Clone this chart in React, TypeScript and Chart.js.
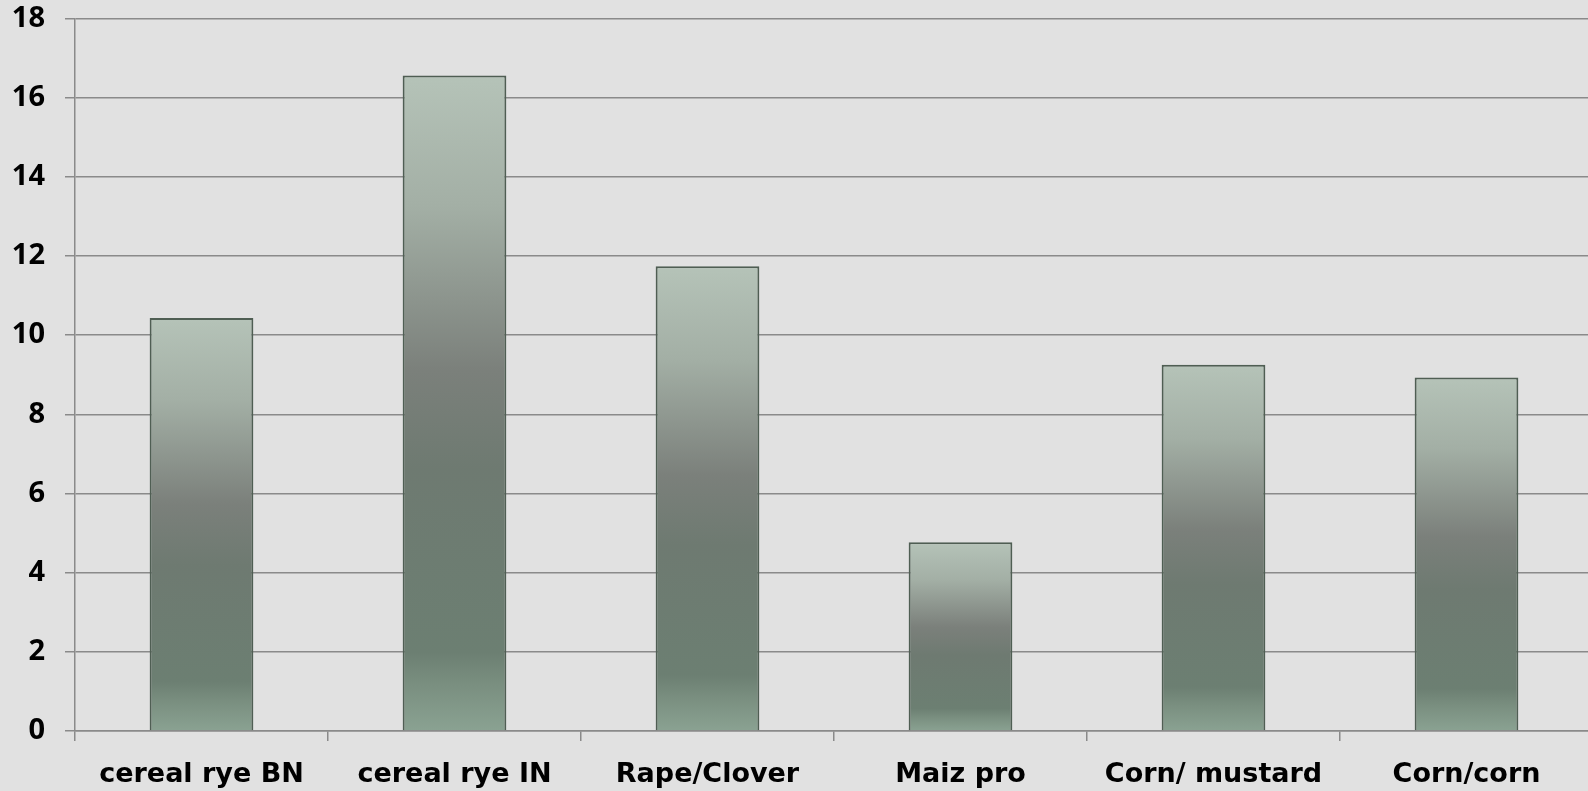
import React, { useEffect, useRef } from "react";
import { Chart, registerables } from "chart.js";

Chart.register(...registerables);

const categories = ["cereal rye BN", "cereal rye IN", "Rape/Clover", "Maiz pro", "Corn/ mustard", "Corn/corn"];
const values = [10.43, 16.56, 11.74, 4.77, 9.25, 8.93];
const yTickMax = 18;
const yTickStep = 2;

const XFONT = "'DejaVu Sans', 'Open Sans', sans-serif";
const YFONT = "'Open Sans', 'DejaVu Sans', sans-serif";

const SHIFT = 19;
const CANVAS_H = 800 + SHIFT;

export default function App() {
  const ref = useRef<HTMLCanvasElement | null>(null);

  useEffect(() => {
    document.body.style.margin = "0";
    document.body.style.background = "#e1e1e1";
    const canvas = ref.current;
    if (!canvas) return;
    const chart = new Chart(canvas, {
      type: "bar",
      data: {
        labels: categories,
        datasets: [
          {
            data: values,
            backgroundColor: (ctx: any) => {
              const c = ctx.chart;
              const ys = c.scales && c.scales.y;
              if (!c.chartArea || !ys || ctx.raw == null) return "#7a8a7e";
              const top = ys.getPixelForValue(ctx.raw as number);
              const bottom = ys.getPixelForValue(0);
              if (!isFinite(top) || !isFinite(bottom) || top === bottom) return "#7a8a7e";
              const g = c.ctx.createLinearGradient(0, top, 0, bottom);
              g.addColorStop(0, "#b5c3b8");
              g.addColorStop(0.2, "#a3afa5");
              g.addColorStop(0.45, "#7b807b");
              g.addColorStop(0.6, "#6e7a71");
              g.addColorStop(0.88, "#6c7f72");
              g.addColorStop(0.93, "#7a8f80");
              g.addColorStop(1, "#8aa292");
              return g;
            },
            borderColor: "#4f5e53",
            borderWidth: 2,
            barPercentage: 0.41,
            categoryPercentage: 1,
          },
        ],
      },
      options: {
        responsive: false,
        animation: false,
        layout: { padding: { top: 0, right: 7, left: 0, bottom: 0 } },
        plugins: { legend: { display: false }, tooltip: { enabled: false } },
        scales: {
          x: {
            grid: {
              display: true,
              drawOnChartArea: false,
              drawTicks: true,
              tickLength: 10,
              color: "#8a8a8a",
              lineWidth: 1.5,
              offset: true,
            },
            border: { display: true, color: "#8a8a8a", width: 1.5 },
            ticks: {
              color: "#000",
              font: { family: XFONT, size: 27, weight: "bold" },
              padding: 18,
              maxRotation: 0,
              autoSkip: false,
            },
            afterFit: (scale: any) => {
              scale.height = 69;
            },
          },
          y: {
            min: 0,
            max: yTickMax,
            ticks: {
              stepSize: yTickStep,
              color: "#000",
              font: { family: YFONT, size: 29, weight: "bold" },
              padding: 20,
            },
            grid: {
              color: "#8a8a8a",
              lineWidth: 1.5,
              tickLength: 10,
            },
            border: { display: true, color: "#8a8a8a", width: 1.5 },
            afterFit: (scale: any) => {
              scale.width = 75;
            },
          },
        },
      },
    });
    return () => chart.destroy();
  }, []);

  return (
    <div style={{ position: "fixed", left: 0, top: 0, width: 1588, height: 791, overflow: "hidden", background: "#e1e1e1" }}>
      <canvas
        ref={ref}
        width={1600}
        height={CANVAS_H}
        style={{ display: "block", position: "absolute", left: 0, top: -SHIFT, width: 1600, height: CANVAS_H }}
      />
    </div>
  );
}
